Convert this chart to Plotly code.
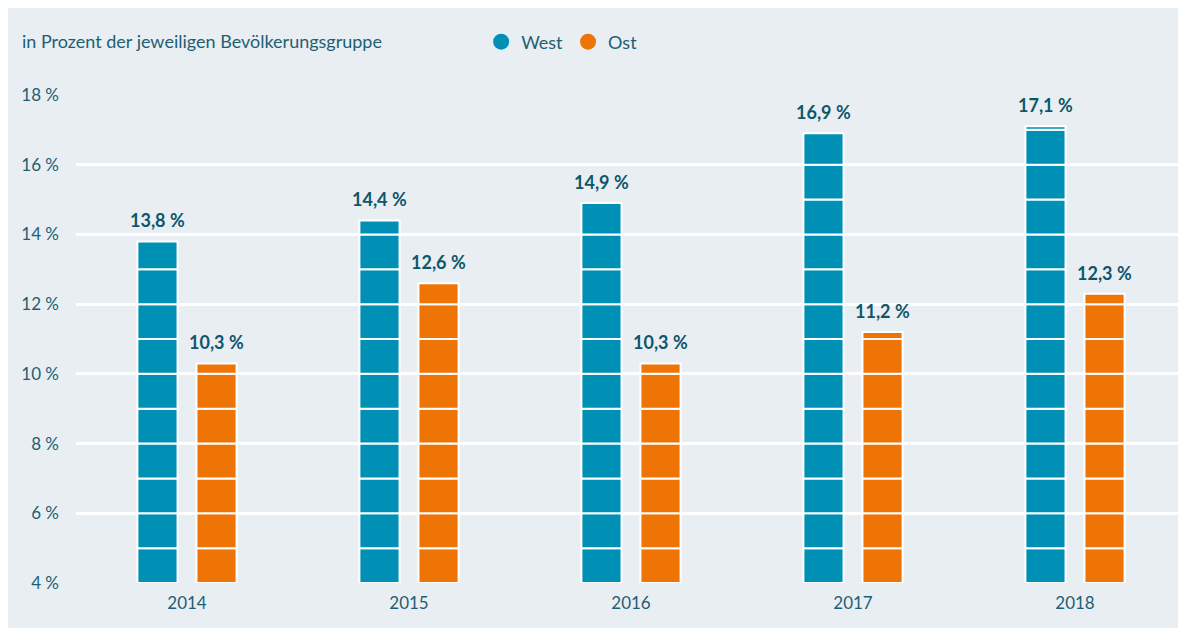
import plotly.graph_objects as go

years = ["2014", "2015", "2016", "2017", "2018"]
west = [13.8, 14.4, 14.9, 16.9, 17.1]
ost = [10.3, 12.6, 10.3, 11.2, 12.3]
y_ticks = [4, 6, 8, 10, 12, 14, 16, 18]
y_ticktext = ["4 %", "6 %", "8 %", "10 %", "12 %", "14 %", "16 %", "18 %"]

BG = "#e9eef3"
TXT = "#1d5f72"
LBL = "#0d566b"
FONT = "Lato"

series = [("West", west, "#0090b5"), ("Ost", ost, "#ee7406")]

W, H = 1186, 628
ML, MR, MT, MB = 68, 8, 87, 53
BARGAP = 0.468
GROUPGAP = 0.32


def label(v):
    return f"{v:.1f}".replace(".", ",") + " %"


fig = go.Figure()

# each bar is built from 1 %-steps so the white separators sit on whole percents
for name, vals, color in series:
    for k in range(y_ticks[0], y_ticks[-1]):
        heights = [min(v, k + 1) - k if v > k else None for v in vals]
        fig.add_trace(go.Bar(
            x=years, y=heights, base=k, name=name,
            offsetgroup=name, showlegend=False,
            marker=dict(color=color, line=dict(color="white", width=2)),
            hoverinfo="skip",
        ))

# legend entries with round markers
for name, vals, color in series:
    fig.add_trace(go.Scatter(
        x=[years[0]], y=[None], mode="markers", name=name,
        marker=dict(symbol="circle", size=19, color=color),
    ))

# value labels above each bar, shifted to the bar's slot in the group
cat_px = (W - ML - MR) / len(years)
slot_px = cat_px * (1 - BARGAP) / len(series)
annotations = []
for i, (name, vals, color) in enumerate(series):
    shift = (i - (len(series) - 1) / 2) * slot_px
    for j, v in enumerate(vals):
        annotations.append(dict(
            x=j, y=v, xref="x", yref="y", text=label(v), showarrow=False,
            xanchor="center", yanchor="bottom", xshift=shift, yshift=8,
            font=dict(family=FONT, size=18, color=LBL, weight="bold"),
        ))

fig.update_layout(
    width=W, height=H,
    margin=dict(l=ML, r=MR, t=MT, b=MB),
    paper_bgcolor=BG, plot_bgcolor=BG,
    barmode="group", bargap=BARGAP, bargroupgap=GROUPGAP,
    font=dict(family=FONT, size=17, color=TXT),
    title=dict(text="in Prozent der jeweiligen Bevölkerungsgruppe",
               x=14 / W, xanchor="left", y=1 - 34 / H, yanchor="middle",
               font=dict(family=FONT, size=18, color=TXT)),
    legend=dict(orientation="h", x=0.365, xanchor="left", y=1 + 53 / 488, yanchor="middle",
                bgcolor="rgba(0,0,0,0)", font=dict(family=FONT, size=18, color=TXT),
                itemwidth=30, traceorder="normal"),
    annotations=annotations,
    showlegend=True,
)
fig.update_xaxes(type="category", categoryorder="array", categoryarray=years,
                 range=[-0.5, len(years) - 0.5],
                 showgrid=False, ticks="", ticklabelstandoff=8,
                 tickfont=dict(family=FONT, size=17, color=TXT))
fig.update_yaxes(range=[4, 18], tickvals=y_ticks, ticktext=y_ticktext,
                 showgrid=True, gridcolor="white", gridwidth=3, zeroline=False,
                 ticks="", ticklabelstandoff=16,
                 tickfont=dict(family=FONT, size=17, color=TXT))

fig.write_html("out.html")
